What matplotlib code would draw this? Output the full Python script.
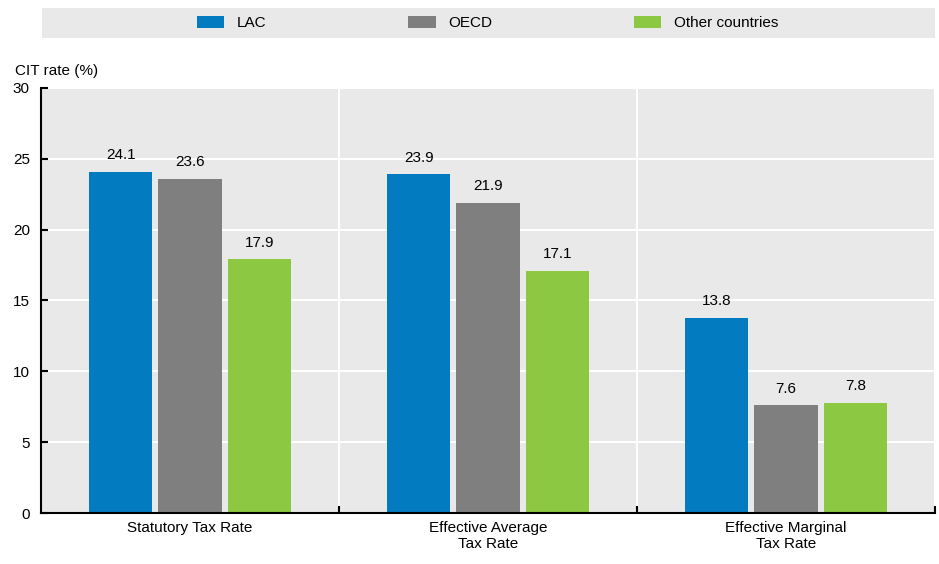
import numpy as np
import matplotlib.pyplot as plt
from matplotlib.patches import Rectangle, Patch

plt.rcParams['font.family'] = ['Liberation Sans Narrow', 'Liberation Sans', 'DejaVu Sans']

categories = ['Statutory Tax Rate', 'Effective Average\nTax Rate', 'Effective Marginal\nTax Rate']
series = ['LAC', 'OECD', 'Other countries']
lac = [24.1, 23.9, 13.8]
oecd = [23.6, 21.9, 7.6]
other = [17.9, 17.1, 7.8]
colors = ['#037bc1', '#7f7f7f', '#8cc841']

fig = plt.figure(figsize=(9.39, 5.64), dpi=100)
ax = fig.add_axes([0.0437, 0.0904, 0.952, 0.7536])
ax.set_facecolor('#e9e9e9')

x = np.arange(len(categories))
width = 0.213
step = 0.233
for i, (vals, col) in enumerate(zip([lac, oecd, other], colors)):
    bars = ax.bar(x + (i - 1) * step, vals, width, color=col, zorder=3)
    ax.bar_label(bars, labels=[f'{v:.1f}' for v in vals], padding=7, fontsize=11)

ax.set_xlim(-0.5, 2.5)
ax.set_ylim(0, 30)
ax.set_yticks(range(0, 31, 5))
ax.set_xticks(x)
ax.set_xticklabels(categories, fontsize=11, linespacing=1.15)
ax.set_xticks([0.5, 1.5, 2.5], minor=True)
ax.tick_params(axis='x', which='major', length=0, pad=6)
ax.tick_params(axis='x', which='minor', direction='in', length=5, width=1.5)
ax.tick_params(axis='y', direction='in', length=5, width=1.5, labelsize=11, pad=8)

ax.grid(axis='y', color='white', linewidth=1.5, zorder=1)
ax.grid(axis='x', which='minor', color='white', linewidth=1.5, zorder=1)
for s in ['top', 'right']:
    ax.spines[s].set_visible(False)
for s in ['left', 'bottom']:
    ax.spines[s].set_linewidth(1.5)
    ax.spines[s].set_zorder(4)

fig.text(0.016, 0.875, 'CIT rate (%)', fontsize=11, ha='left', va='center')

# legend band
fig.patches.append(Rectangle((0.0447, 0.933), 0.951, 0.053, transform=fig.transFigure,
                             facecolor='#e9e9e9', edgecolor='none', zorder=0))
handles = [Patch(facecolor=c) for c in colors]
fig.legend(handles, series, loc='center', bbox_to_anchor=(0.519, 0.959), ncol=3,
           frameon=False, fontsize=11, columnspacing=9.3, handlelength=1.8,
           handleheight=0.8, handletextpad=0.8)

fig.savefig('out.png', dpi=100)
